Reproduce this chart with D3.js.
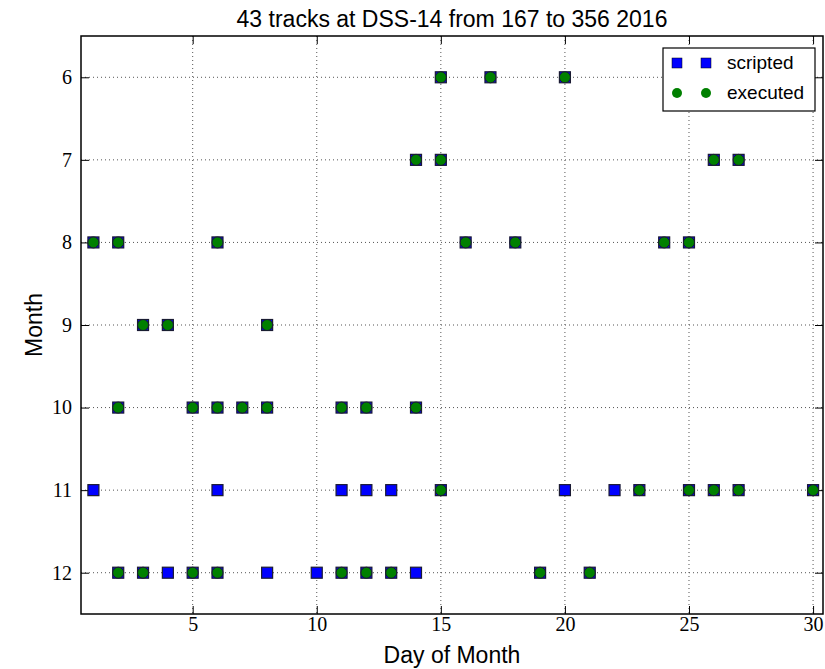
<!DOCTYPE html>
<html>
<head>
<meta charset="utf-8">
<script src="https://cdn.jsdelivr.net/npm/d3@7"></script>
<style>
  body { margin: 0; background: #fff; }
  svg { display: block; }
</style>
</head>
<body>
<div id="chart"></div>
<script>
// scripted tracks (day of month, month)
var scriptedDays   = [15,17,20, 14,15,26,27, 1,2,6,16,18,24,25, 3,4,8, 2,5,6,7,8,11,12,14,
                      1,6,11,12,13,15,20,22,23,25,26,27,30, 2,3,4,5,6,8,10,11,12,13,14,19,21];
var scriptedMonths = [6,6,6, 7,7,7,7, 8,8,8,8,8,8,8, 9,9,9, 10,10,10,10,10,10,10,10,
                      11,11,11,11,11,11,11,11,11,11,11,11,11, 12,12,12,12,12,12,12,12,12,12,12,12,12];
// executed tracks
var executedDays   = [15,17,20, 14,15,26,27, 1,2,6,16,18,24,25, 3,4,8, 2,5,6,7,8,11,12,14,
                      15,23,25,26,27,30, 2,3,5,6,11,12,13,19,21];
var executedMonths = [6,6,6, 7,7,7,7, 8,8,8,8,8,8,8, 9,9,9, 10,10,10,10,10,10,10,10,
                      11,11,11,11,11,11, 12,12,12,12,12,12,12,12,12];
var xTicks = [5, 10, 15, 20, 25, 30];
var yTicks = [6, 7, 8, 9, 10, 11, 12];

var W = 825, H = 669;
var margin = {top: 36, right: 2, bottom: 55, left: 81},
    width = W - margin.left - margin.right,
    height = H - margin.top - margin.bottom;

var svg = d3.select("#chart").append("svg")
    .attr("width", W).attr("height", H);
var g = svg.append("g")
    .attr("transform", "translate(" + margin.left + "," + margin.top + ")");

var x = d3.scaleLinear().domain([0.5, 30.4]).range([0, width]);
var y = d3.scaleLinear().domain([5.5, 12.5]).range([0, height]);

// grid
g.append("g").selectAll("line").data(xTicks).enter().append("line")
  .attr("x1", d => x(d)).attr("x2", d => x(d))
  .attr("y1", 0).attr("y2", height)
  .attr("stroke", "#555").attr("stroke-width", 1).attr("stroke-dasharray", "1,3");
g.append("g").selectAll("line").data(yTicks).enter().append("line")
  .attr("x1", 0).attr("x2", width)
  .attr("y1", d => y(d)).attr("y2", d => y(d))
  .attr("stroke", "#555").attr("stroke-width", 1).attr("stroke-dasharray", "1,3");

// axes with inward ticks on all sides
var tickFont = "'Liberation Serif', 'DejaVu Serif', serif";
function styleAxis(sel) {
  sel.select(".domain").remove();
  sel.selectAll("line").attr("stroke", "#000");
  sel.selectAll("text").attr("font-family", tickFont).attr("font-size", 20).attr("fill", "#000");
}
g.append("g").attr("transform", "translate(0," + height + ")")
  .call(d3.axisBottom(x).tickValues(xTicks).tickFormat(d3.format("d"))
    .tickSizeInner(-8).tickSizeOuter(0).tickPadding(3))
  .call(styleAxis);
g.append("g")
  .call(d3.axisTop(x).tickValues(xTicks).tickSizeInner(-8).tickSizeOuter(0).tickFormat(""))
  .call(styleAxis);
g.append("g")
  .call(d3.axisLeft(y).tickValues(yTicks).tickFormat(d3.format("d"))
    .tickSizeInner(-8).tickSizeOuter(0).tickPadding(9))
  .call(styleAxis);
g.append("g").attr("transform", "translate(" + width + ",0)")
  .call(d3.axisRight(y).tickValues(yTicks).tickSizeInner(-8).tickSizeOuter(0).tickFormat(""))
  .call(styleAxis);

g.append("rect").attr("width", width).attr("height", height)
  .attr("fill", "none").attr("stroke", "#000").attr("stroke-width", 1.5);

// markers
var scripted = scriptedDays.map((d, i) => ({day: d, month: scriptedMonths[i]}));
var executed = executedDays.map((d, i) => ({day: d, month: executedMonths[i]}));
var s = 11;
g.append("g").selectAll("rect").data(scripted).enter().append("rect")
  .attr("x", d => x(d.day) - s / 2).attr("y", d => y(d.month) - s / 2)
  .attr("width", s).attr("height", s)
  .attr("fill", "#0000ff").attr("stroke", "#1a1a33").attr("stroke-width", 1.2);
g.append("g").selectAll("circle").data(executed).enter().append("circle")
  .attr("cx", d => x(d.day)).attr("cy", d => y(d.month)).attr("r", s / 2)
  .attr("fill", "#008000").attr("stroke", "#1a1a33").attr("stroke-width", 1);

// legend
var lg = svg.append("g").attr("transform", "translate(663,48)");
lg.append("rect").attr("width", 152).attr("height", 63)
  .attr("fill", "#fff").attr("stroke", "#000").attr("stroke-width", 1.2);
[677, 706].forEach(function(px) {
  lg.append("rect").attr("x", px - 663 - 5).attr("y", 15 - 5).attr("width", 10).attr("height", 10)
    .attr("fill", "#0000ff").attr("stroke", "#000").attr("stroke-width", 0.5);
  lg.append("circle").attr("cx", px - 663).attr("cy", 45).attr("r", 5)
    .attr("fill", "#008000");
});
var sans = "'Liberation Sans', Arial, Helvetica, sans-serif";
lg.append("text").attr("x", 64).attr("y", 21).text("scripted")
  .attr("font-family", sans).attr("font-size", 19);
lg.append("text").attr("x", 64).attr("y", 51).text("executed")
  .attr("font-family", sans).attr("font-size", 19);

// title and labels
svg.append("text").attr("x", margin.left + width / 2).attr("y", 27)
  .attr("text-anchor", "middle").attr("font-family", sans).attr("font-size", 23)
  .text("43 tracks at DSS-14 from 167 to 356 2016");
svg.append("text").attr("x", margin.left + width / 2).attr("y", 663)
  .attr("text-anchor", "middle").attr("font-family", sans).attr("font-size", 23)
  .text("Day of Month");
svg.append("text").attr("transform", "translate(42," + (margin.top + height / 2) + ") rotate(-90)")
  .attr("text-anchor", "middle").attr("font-family", sans).attr("font-size", 23)
  .text("Month");
</script>
</body>
</html>
